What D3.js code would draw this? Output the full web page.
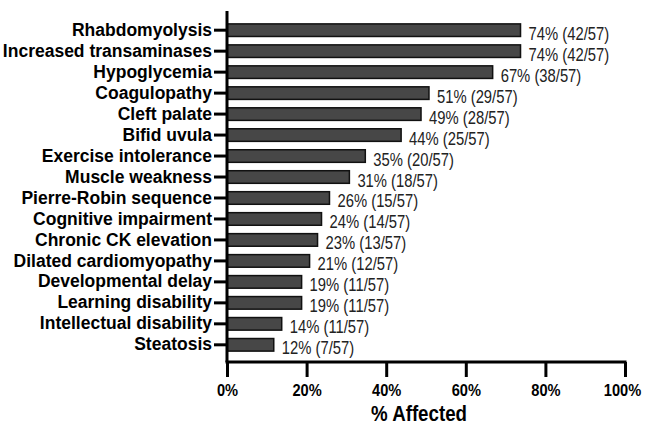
<!DOCTYPE html>
<html>
<head>
<meta charset="utf-8">
<script src="https://cdn.jsdelivr.net/npm/d3@7"></script>
<style>
  body { margin: 0; background: #fff; }
  svg { display: block; }
  text { font-family: "Liberation Sans", Arial, sans-serif; }
</style>
</head>
<body>
<svg id="chart" width="646" height="426"></svg>
<script>
// features, top to bottom
var features = ["Rhabdomyolysis", "Increased transaminases", "Hypoglycemia", "Coagulopathy",
    "Cleft palate", "Bifid uvula", "Exercise intolerance", "Muscle weakness",
    "Pierre-Robin sequence", "Cognitive impairment", "Chronic CK elevation",
    "Dilated cardiomyopathy", "Developmental delay", "Learning disability",
    "Intellectual disability", "Steatosis"];
var percents = [74, 74, 67, 51, 49, 44, 35, 31, 26, 24, 23, 21, 19, 19, 14, 12];
var counts = ["42/57", "42/57", "38/57", "29/57", "28/57", "25/57", "20/57", "18/57",
    "15/57", "14/57", "13/57", "12/57", "11/57", "11/57", "11/57", "7/57"];
var xTicks = [0, 20, 40, 60, 80, 100];

// narrow the glyphs a bit, the original uses condensed fonts
function squeeze(sel, k) {
    sel.each(function() {
        var w = this.getComputedTextLength();
        d3.select(this)
            .attr("textLength", w * k)
            .attr("lengthAdjust", "spacingAndGlyphs");
    });
}

var svg = d3.select("#chart");

var x = d3.scaleLinear().domain([0, 100]).range([227, 625]);
var y = d3.scaleBand().domain(features).range([15.5, 359.5]).padding(0.4);

// bars
svg.append("g")
    .selectAll("rect")
    .data(features)
    .join("rect")
    .attr("x", x(0))
    .attr("y", function(d) { return y(d); })
    .attr("width", function(d, i) { return x(percents[i]) - x(0) - 1; })
    .attr("height", y.bandwidth())
    .attr("fill", "#474747")
    .attr("stroke", "#111")
    .attr("stroke-width", 1.5);

// value labels
svg.append("g")
    .selectAll("text")
    .data(features)
    .join("text")
    .attr("x", function(d, i) { return x(percents[i]) + 7; })
    .attr("y", function(d) { return y(d) + y.bandwidth() / 2 + 9.5; })
    .attr("font-size", "18.5px")
    .attr("fill", "#222")
    .text(function(d, i) { return percents[i] + "% (" + counts[i] + ")"; })
    .call(squeeze, 0.8);

// y axis
var yAxis = svg.append("g")
    .attr("transform", "translate(" + x(0) + ",0)")
    .call(d3.axisLeft(y).tickSize(13).tickPadding(2));
yAxis.select(".domain").attr("d", "M0,11V362").attr("stroke", "#000").attr("stroke-width", 3);
yAxis.selectAll(".tick line").attr("stroke", "#000").attr("stroke-width", 3);
yAxis.selectAll(".tick text")
    .attr("font-size", "17.5px")
    .attr("font-weight", "bold")
    .attr("fill", "#000");

// x axis
var xAxis = svg.append("g")
    .attr("transform", "translate(0,362)")
    .call(d3.axisBottom(x).tickValues(xTicks).tickSize(15).tickPadding(7)
        .tickFormat(function(d) { return d + "%"; }));
xAxis.select(".domain").attr("d", "M" + (x(0) - 1.5) + ",0H" + (x(100) + 1.5)).attr("stroke", "#000").attr("stroke-width", 3);
xAxis.selectAll(".tick line").attr("stroke", "#000").attr("stroke-width", 3);
xAxis.selectAll(".tick text")
    .attr("font-size", "17px")
    .attr("font-weight", "bold")
    .attr("fill", "#000")
    .call(squeeze, 0.86);
// keep the last label inside the window
xAxis.selectAll(".tick text").filter(function(d) { return d === 100; }).attr("dx", -3);

// axis title
svg.append("text")
    .attr("x", 419)
    .attr("y", 421)
    .attr("text-anchor", "middle")
    .attr("font-size", "22px")
    .attr("font-weight", "bold")
    .text("% Affected")
    .call(squeeze, 0.85);
</script>
</body>
</html>
